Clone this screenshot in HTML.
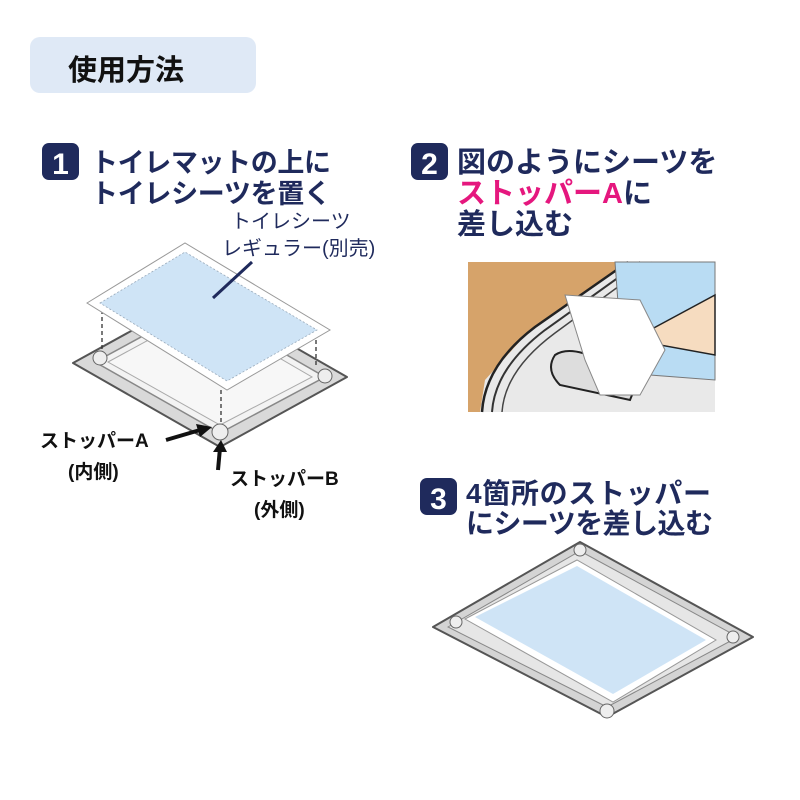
<!DOCTYPE html>
<html><head><meta charset="utf-8"><style>
html,body{margin:0;padding:0;background:#fff}
svg{display:block}
text{font-family:"Liberation Sans","Noto Sans CJK JP",sans-serif}
</style></head><body>
<svg width="800" height="800" viewBox="0 0 800 800" xmlns="http://www.w3.org/2000/svg">
<rect x="30" y="37" width="226" height="56" rx="10" fill="#dfe9f6"/>
<text x="68" y="80" font-size="29" font-weight="bold" fill="#111" font-family="Noto Sans CJK JP,sans-serif">使用方法</text>

<!-- step 1 -->
<rect x="42" y="143" width="37" height="37" rx="7" fill="#1f2a5c"/>
<text x="60.5" y="174" font-size="30" font-weight="bold" fill="#fff" text-anchor="middle">1</text>
<g font-size="27" font-weight="bold" fill="#1f2a5c" font-family="Noto Sans CJK JP,sans-serif">
<text x="91" y="172" textLength="240">トイレマットの上に</text>
<text x="91" y="203" textLength="240">トイレシーツを置く</text>
</g>
<!-- step 2 -->
<rect x="411" y="143" width="37" height="37" rx="7" fill="#1f2a5c"/>
<text x="429.5" y="174" font-size="30" font-weight="bold" fill="#fff" text-anchor="middle">2</text>
<g font-size="29" font-weight="bold" fill="#1f2a5c" font-family="Noto Sans CJK JP,sans-serif">
<text x="457" y="172">図のようにシーツを</text>
<text x="457" y="203"><tspan fill="#e5177e">ストッパーA</tspan>に</text>
<text x="457" y="234">差し込む</text>
</g>
<!-- step 3 -->
<rect x="420" y="478" width="37" height="37" rx="7" fill="#1f2a5c"/>
<text x="438.5" y="509" font-size="30" font-weight="bold" fill="#fff" text-anchor="middle">3</text>
<g font-size="28" font-weight="bold" fill="#1f2a5c" font-family="Noto Sans CJK JP,sans-serif">
<text x="466" y="503" textLength="245">4箇所のストッパー</text>
<text x="466" y="533" textLength="247">にシーツを差し込む</text>
</g>

<!-- mat 1 -->
<polygon points="73,363 200,293 347,377 220,447" fill="#d9d9d9" stroke="#555" stroke-width="2" stroke-linejoin="round"/>
<polygon points="95,362 200,305 325,377 220,433" fill="#f3f3f3" stroke="#888" stroke-width="1.5"/>
<polygon points="108,362 200,312 312,377 220,425" fill="#f7f7f7" stroke="#aaa" stroke-width="1"/>
<circle cx="100" cy="358" r="7" fill="#eee" stroke="#666"/>
<circle cx="325" cy="376" r="7" fill="#eee" stroke="#666"/>
<circle cx="220" cy="432" r="8" fill="#eee" stroke="#666"/>
<g stroke="#333" stroke-width="1.3" stroke-dasharray="4,3">
<line x1="102" y1="310" x2="102" y2="350"/><line x1="316" y1="340" x2="316" y2="366"/><line x1="221" y1="390" x2="221" y2="422"/>
</g>
<!-- sheet -->
<polygon points="87,303 185,243 330,330 227,390" fill="#fff" stroke="#999" stroke-width="1"/>
<polygon points="100,303 185,252 317,330 227,381" fill="#cfe4f6" stroke="#9ab" stroke-width="0.8" stroke-dasharray="2,2"/>
<line x1="213" y1="298" x2="252" y2="262" stroke="#1f2a5c" stroke-width="3"/>
<g font-size="20" fill="#1f2a5c" font-family="Noto Sans CJK JP,sans-serif">
<text x="231" y="228">トイレシーツ</text>
<text x="222" y="255">レギュラー(別売)</text>
</g>
<!-- arrows -->
<line x1="166" y1="440" x2="200" y2="430" stroke="#111" stroke-width="4"/>
<polygon points="212,427 196,424 200,437" fill="#111"/>
<line x1="218" y1="470" x2="220" y2="448" stroke="#111" stroke-width="4"/>
<polygon points="221,440 213,452 227,452" fill="#111"/>
<g font-size="19" font-weight="bold" fill="#111" font-family="Noto Sans CJK JP,sans-serif">
<text x="40" y="447">ストッパーA</text>
<text x="68" y="478">(内側)</text>
<text x="230" y="485">ストッパーB</text>
<text x="254" y="516">(外側)</text>
</g>

<!-- photo -->
<rect x="468" y="262" width="247" height="150" fill="#e9e9e9"/>
<polygon points="468,262 628,262 530,330 485,380 480,412 468,412" fill="#d6a36a"/>
<path d="M628,262 L535,327 Q485,365 482,412" fill="none" stroke="#222" stroke-width="2.5"/>
<path d="M640,262 L545,330 Q495,368 492,412" fill="none" stroke="#333" stroke-width="2"/>
<path d="M652,262 L555,333 Q505,370 502,412" fill="none" stroke="#444" stroke-width="1.5"/>
<path d="M555,355 Q570,345 600,360 L640,375 L630,400 L560,385 Q545,370 555,355Z" fill="#ddd" stroke="#222" stroke-width="2"/>
<path d="M615,262 L715,262 L715,380 L650,375 L620,330Z" fill="#b9dcf3" stroke="#777" stroke-width="1"/>
<path d="M650,330 L715,295 L715,355 L660,345Z" fill="#f6dcc0" stroke="#222" stroke-width="1.5"/>
<path d="M565,295 L640,300 L665,350 L640,395 L600,395 L585,360Z" fill="#fff" stroke="#888" stroke-width="1"/>

<!-- mat 3 -->
<polygon points="433,627 580,542 753,637 607,717" fill="#d4d4d4" stroke="#555" stroke-width="2" stroke-linejoin="round"/>
<polygon points="448,627 580,551 738,637 607,707" fill="#e6e6e6" stroke="#888" stroke-width="1"/>
<polygon points="465,619 577,560 716,640 613,702" fill="#fff" stroke="#999" stroke-width="1"/>
<polygon points="475,617 577,566 706,640 613,694" fill="#cfe4f6"/>
<circle cx="456" cy="622" r="6" fill="#eee" stroke="#666"/>
<circle cx="580" cy="550" r="6" fill="#eee" stroke="#666"/>
<circle cx="733" cy="637" r="6" fill="#eee" stroke="#666"/>
<circle cx="607" cy="711" r="7" fill="#eee" stroke="#666"/>
</svg>
</body></html>
